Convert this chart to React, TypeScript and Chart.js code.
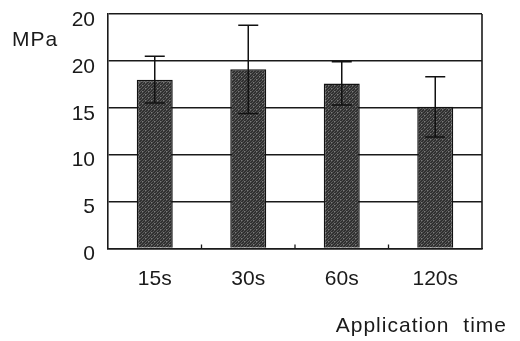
import React, { useEffect, useRef } from "react";
import { Chart, registerables } from "chart.js";
Chart.register(...registerables);

const categories = ["15s", "30s", "60s", "120s"];
const means = [18.0, 19.1, 17.6, 15.1];
const errors = [2.5, 4.7, 2.3, 3.2];
const yTickValues = [0, 5, 10, 15, 20, 25];
const yTickLabels = ["0", "5", "10", "15", "20", "20"];
const yAxisLabel = "MPa";
const xAxisLabel = "Application time";

const FONT = "'Liberation Sans', Arial, Helvetica, sans-serif";
const INK = "#1a1a1a";

function makePattern(ctx: CanvasRenderingContext2D) {
  const c = document.createElement("canvas");
  c.width = 6;
  c.height = 6;
  const p = c.getContext("2d")!;
  p.fillStyle = "#303030";
  p.fillRect(0, 0, 6, 6);
  p.fillStyle = "#595959";
  for (let y = 0; y < 6; y++) {
    for (let x = 0; x < 6; x++) {
      if ((x + y) % 3 === 0) p.fillRect(x, y, 1, 1);
    }
  }
  p.fillStyle = "#7a7a7a";
  p.fillRect(1, 4, 1, 1);
  p.fillRect(4, 1, 1, 1);
  return ctx.createPattern(c, "repeat")!;
}

const decorPlugin = {
  id: "decor",
  afterDatasetsDraw(chart: any) {
    const { ctx, chartArea } = chart;
    const xs = chart.scales.x;
    const ys = chart.scales.y;
    ctx.save();
    ctx.strokeStyle = INK;
    ctx.lineWidth = 1.6;
    ctx.beginPath();
    ctx.moveTo(chartArea.right, chartArea.top);
    ctx.lineTo(chartArea.right, chartArea.bottom);
    ctx.stroke();
    ctx.lineWidth = 1.3;
    for (let i = 0; i < categories.length - 1; i++) {
      const x = (xs.getPixelForValue(i) + xs.getPixelForValue(i + 1)) / 2;
      ctx.beginPath();
      ctx.moveTo(x, chartArea.bottom);
      ctx.lineTo(x, chartArea.bottom - 4);
      ctx.stroke();
    }
    const meta = chart.getDatasetMeta(0);
    ctx.lineWidth = 1.5;
    ctx.strokeStyle = "#111";
    meta.data.forEach((el: any, i: number) => {
      const x = el.x;
      const yt = ys.getPixelForValue(means[i] + errors[i]);
      const yb = ys.getPixelForValue(means[i] - errors[i]);
      ctx.beginPath();
      ctx.moveTo(x, yt);
      ctx.lineTo(x, yb);
      ctx.moveTo(x - 10, yt);
      ctx.lineTo(x + 10, yt);
      ctx.moveTo(x - 10, yb);
      ctx.lineTo(x + 10, yb);
      ctx.stroke();
    });
    ctx.fillStyle = INK;
    ctx.font = `21px ${FONT}`;
    ctx.textBaseline = "middle";
    (ctx as any).letterSpacing = "1px";
    ctx.textAlign = "left";
    ctx.fillText(yAxisLabel, 12, 40);
    (ctx as any).letterSpacing = "1px";
    (ctx as any).wordSpacing = "7px";
    ctx.textAlign = "right";
    ctx.fillText(xAxisLabel, 507, 326);
    (ctx as any).letterSpacing = "0px";
    (ctx as any).wordSpacing = "0px";
    ctx.restore();
  },
};

export default function App() {
  const ref = useRef<HTMLCanvasElement>(null);
  useEffect(() => {
    const canvas = ref.current!;
    const ctx = canvas.getContext("2d")!;
    const pattern = makePattern(ctx);
    const chart = new Chart(canvas, {
      type: "bar",
      data: {
        labels: categories,
        datasets: [
          {
            data: means,
            backgroundColor: pattern as any,
            borderColor: "#111",
            borderWidth: 1.5,
            barPercentage: 0.385,
            categoryPercentage: 1,
          },
        ],
      },
      options: {
        animation: false,
        responsive: false,
        maintainAspectRatio: false,
        layout: { padding: { left: 8, right: 38, top: 14, bottom: 0 } },
        plugins: {
          legend: { display: false },
          tooltip: { enabled: false },
          title: { display: false },
        },
        scales: {
          x: {
            grid: { display: false, drawTicks: false },
            border: { display: true, color: INK, width: 1.6 },
            ticks: {
              color: INK,
              font: { family: FONT, size: 21 },
              padding: 18,
              maxRotation: 0,
            },
            afterFit(scale: any) {
              scale.height = 341 - 248.5 - 0;
              scale.paddingLeft = 0;
              scale.paddingRight = 0;
            },
          },
          y: {
            min: 0,
            max: 25,
            afterBuildTicks(scale: any) {
              scale.ticks = yTickValues.map((v) => ({ value: v }));
            },
            grid: { color: INK, lineWidth: 1.6, drawTicks: false },
            border: { display: true, color: INK, width: 1.6 },
            ticks: {
              color: INK,
              font: { family: FONT, size: 21 },
              padding: 13,
              labelOffset: 6,
              callback: (_v: any, i: number) => yTickLabels[i],
            },
            afterFit(scale: any) {
              scale.width = 100;
              scale.paddingTop = 0;
              scale.paddingBottom = 0;
            },
          },
        },
      },
      plugins: [decorPlugin],
    });
    return () => chart.destroy();
  }, []);
  return (
    <div style={{ position: "fixed", left: 0, top: 0, width: 520, height: 341, background: "#fff" }}>
      <canvas ref={ref} width={520} height={341} style={{ width: 520, height: 341 }} />
    </div>
  );
}
